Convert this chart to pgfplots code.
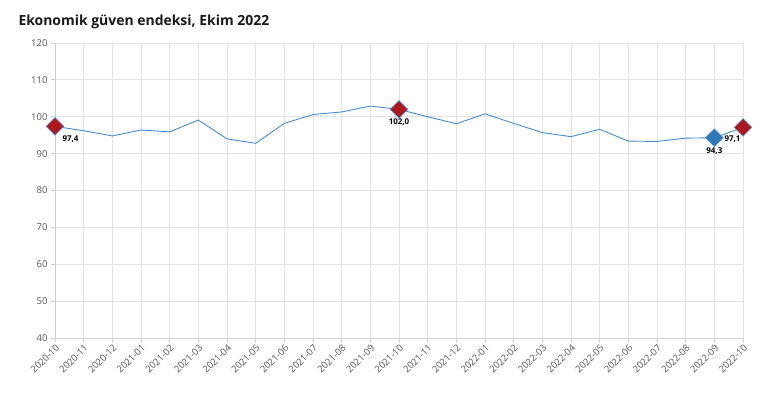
\documentclass[border=0pt]{standalone}
\usepackage{pgfplots}
\pgfplotsset{compat=1.18}
\usepackage{fontspec}
\setmainfont{Open Sans}
\definecolor{linec}{HTML}{4A8BC9}
\definecolor{redm}{HTML}{B0161E}
\definecolor{bluem}{HTML}{2F78B8}
\definecolor{gridc}{HTML}{E3E3E3}
\definecolor{tickc}{HTML}{555555}
\begin{document}
\begin{tikzpicture}[x=1bp,y=1bp]
\path[use as bounding box] (0,0) rectangle (770,416);
\node[anchor=west,font=\bfseries\fontsize{14}{16}\selectfont,text=black!90] at (15,394) {Ekonomik güven endeksi, Ekim 2022};
\begin{axis}[
  at={(55bp,78bp)}, anchor=south west,
  scale only axis, width=688bp, height=295bp,
  xmin=0, xmax=24, ymin=40, ymax=120,
  xtick={0,...,24},
  xticklabels={2020-10,2020-11,2020-12,2021-01,2021-02,2021-03,2021-04,2021-05,2021-06,2021-07,2021-08,2021-09,2021-10,2021-11,2021-12,2022-01,2022-02,2022-03,2022-04,2022-05,2022-06,2022-07,2022-08,2022-09,2022-10},
  ytick={40,50,...,120},
  x tick label style={rotate=45, anchor=north east, font=\fontsize{9.5}{11}\selectfont, text=tickc, inner sep=1pt},
  y tick label style={font=\fontsize{9.5}{11}\selectfont, text=tickc},
  /pgf/number format/assume math mode=true,
  grid=major, grid style={gridc, line width=0.8bp},
  axis line style={gridc!80!gray, line width=0.8bp},
  axis lines=left, axis line style={-},
  tick align=outside, major tick length=4bp,
  tick style={gridc!80!gray, line width=0.8bp},
  clip=false,
]
\addplot[linec, line width=0.9bp, mark=none] coordinates {
(0,97.4) (1,96.2) (2,94.8) (3,96.4) (4,95.9) (5,99.1) (6,94.0) (7,92.8) (8,98.2) (9,100.6) (10,101.3) (11,102.9) (12,102.0) (13,100.0) (14,98.1) (15,100.8) (16,98.2) (17,95.7) (18,94.6) (19,96.6) (20,93.4) (21,93.3) (22,94.2) (23,94.3) (24,97.1)
};
\addplot[only marks, mark=square*, mark size=6.2bp, mark options={rotate=45, fill=redm, draw=linec, line width=0.6bp}] coordinates {(0,97.4)}
  node[pos=0, anchor=north west, font=\bfseries\fontsize{8}{9}\selectfont, xshift=4bp, yshift=-6bp] {97,4};
\addplot[only marks, mark=square*, mark size=6.2bp, mark options={rotate=45, fill=redm, draw=linec, line width=0.6bp}] coordinates {(12,102.0)}
  node[pos=0, anchor=north, font=\bfseries\fontsize{8}{9}\selectfont, yshift=-6bp] {102,0};
\addplot[only marks, mark=square*, mark size=6.2bp, mark options={rotate=45, fill=bluem, draw=linec, line width=0.6bp}] coordinates {(23,94.3)}
  node[pos=0, anchor=north, font=\bfseries\fontsize{8}{9}\selectfont, yshift=-6bp] {94,3};
\addplot[only marks, mark=square*, mark size=6.2bp, mark options={rotate=45, fill=redm, draw=linec, line width=0.6bp}] coordinates {(24,97.1)}
  node[pos=0, anchor=north east, font=\bfseries\fontsize{8}{9}\selectfont, xshift=1bp, yshift=-5bp] {97,1};
\end{axis}
\end{tikzpicture}
\end{document}
